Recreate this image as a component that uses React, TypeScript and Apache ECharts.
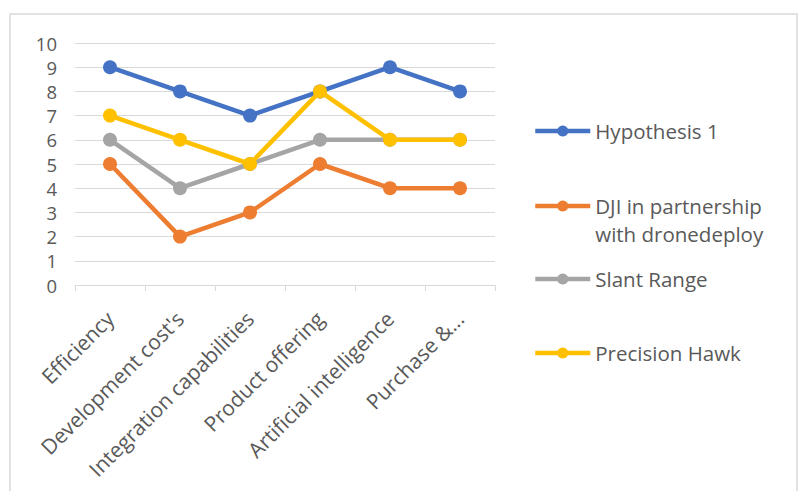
import React, { useEffect, useRef } from "react";
import * as echarts from "echarts";

const categories = [
  "Efficiency",
  "Development cost's",
  "Integration capabilities",
  "Product offering",
  "Artificial intelligence",
  "Purchase &...",
];
const hypothesis1 = [9, 8, 7, 8, 9, 8];
const dji = [5, 2, 3, 5, 4, 4];
const slantRange = [6, 4, 5, 6, 6, 6];
const precisionHawk = [7, 6, 5, 8, 6, 6];

const seriesNames = ["Hypothesis 1", "DJI in partnership\nwith dronedeploy", "Slant Range", "Precision Hawk"];
const seriesColors = ["#4472C4", "#ED7D31", "#A5A5A5", "#FFC000"];
const seriesData = [hypothesis1, dji, slantRange, precisionHawk];
const legendCenters = [131, 206, 279, 353];

export default function App() {
  const ref = useRef<HTMLDivElement>(null);
  useEffect(() => {
    document.body.style.margin = "0";
    const chart = echarts.init(ref.current!, null, { renderer: "svg" });
    const font = "'Open Sans', sans-serif";
    const lh = 28;
    chart.setOption({
      animation: false,
      backgroundColor: "#fff",
      textStyle: { fontFamily: font },
      grid: { left: 75, right: 310, top: 43, bottom: 206, containLabel: false },
      xAxis: {
        type: "category",
        data: categories,
        boundaryGap: true,
        axisLine: { lineStyle: { color: "#D9D9D9", width: 1 } },
        axisTick: { show: true, length: 6, lineStyle: { color: "#D9D9D9" } },
        axisLabel: { rotate: 45, color: "#595959", fontSize: 21, margin: 30, interval: 0, fontFamily: font },
      },
      yAxis: {
        type: "value",
        min: 0,
        max: 10,
        interval: 1,
        axisLine: { show: false },
        axisTick: { show: false },
        splitLine: { lineStyle: { color: "#D9D9D9", width: 1 } },
        axisLabel: { color: "#595959", fontSize: 18.5, lineHeight: 19, margin: 18, fontFamily: font },
      },
      legend: seriesNames.map((n, i) => ({
        data: [n],
        orient: "vertical",
        left: 528,
        top: i === 1 ? legendCenters[i] - 5 - (lh * 3) / 2 : legendCenters[i] - 5 - lh / 2,
        itemWidth: 55,
        itemHeight: 14,
        itemGap: 4,
        lineStyle: { width: 4.5 },
        formatter: (name: string) => (name.indexOf("\n") >= 0 ? " \n" + name : name),
        textStyle: {
          color: "#595959",
          fontSize: 20.5,
          fontFamily: font,
          lineHeight: lh,
        },
      })),
      graphic: [
        {
          type: "rect",
          shape: { x: 10, y: 14, width: 787, height: 490 },
          style: { fill: "none", stroke: "#D9D9D9", lineWidth: 1.5 },
          silent: true,
        },
      ],
      series: seriesNames.map((n, i) => ({
        name: n,
        type: "line",
        data: seriesData[i],
        symbol: "circle",
        symbolSize: 14,
        lineStyle: { width: 4.5, color: seriesColors[i] },
        itemStyle: { color: seriesColors[i] },
        z: 2 + i,
      })),
    });
    return () => chart.dispose();
  }, []);
  return <div ref={ref} style={{ width: 805, height: 491 }} />;
}
